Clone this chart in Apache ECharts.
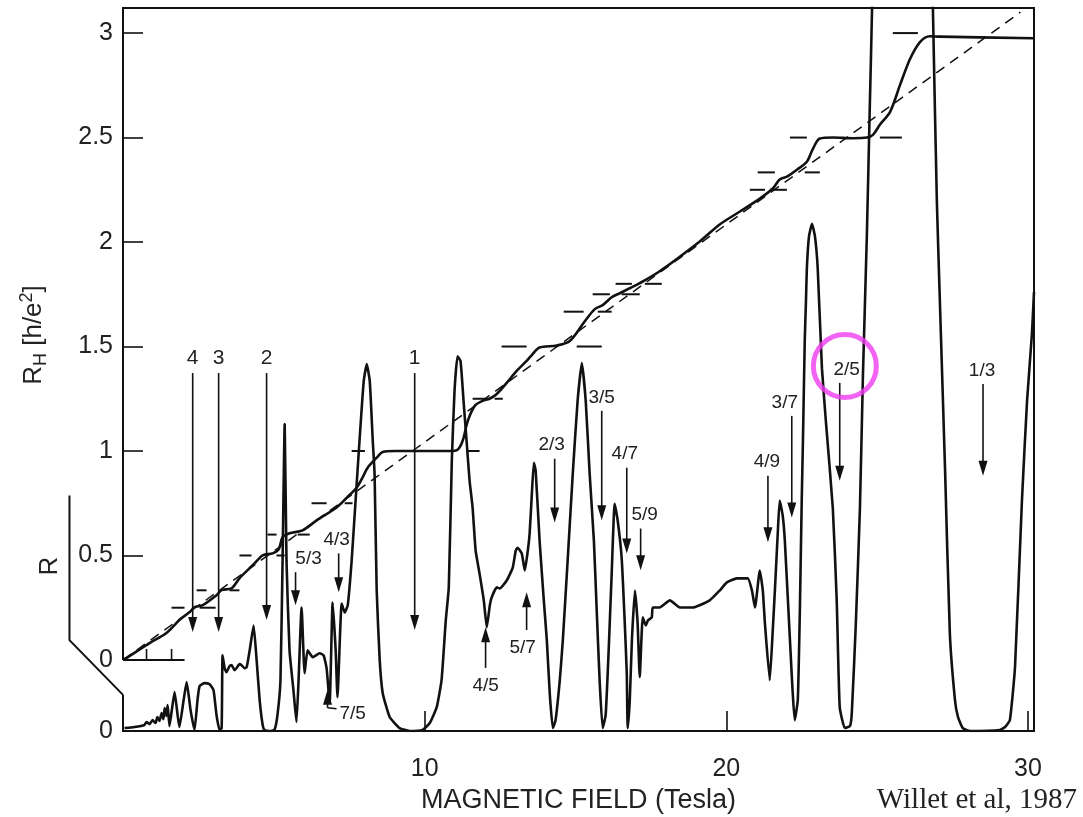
<!DOCTYPE html>
<html><head><meta charset="utf-8">
<script src="https://cdn.jsdelivr.net/npm/echarts@6/dist/echarts.min.js"></script>
<style>html,body{margin:0;padding:0;background:#fff}#c{width:1083px;height:817px}</style>
</head><body><div id="c"></div>
<script>
// ---------- DATA ----------
// Hall resistance R_H [h/e^2] vs magnetic field B [T]
const hallPoints = [
[0,0],[0.12,0.010],[0.88,0.081],[1.44,0.129],[1.87,0.191],[2.21,0.229],[2.37,0.253],[2.64,0.262],[3.10,0.310],[3.27,0.334],
[3.60,0.343],[3.86,0.391],[4.30,0.453],[4.63,0.501],[4.96,0.510],[5.16,0.529],[5.29,0.587],[5.52,0.606],[5.95,0.620],[6.42,0.668],
[7.08,0.730],[7.42,0.777],[7.75,0.825],[7.94,0.873],[8.11,0.920],[8.41,0.968],[8.61,0.995],[9.01,1.0],[10.83,1.0],[11.09,1.006],
[11.26,1.049],[11.43,1.144],[11.66,1.216],[11.92,1.240],[12.15,1.250],[12.39,1.273],[12.72,1.326],[13.05,1.383],[13.38,1.431],[13.58,1.464],
[13.81,1.495],[14.38,1.505],[14.81,1.526],[15.31,1.621],[15.64,1.679],[15.90,1.698],[16.20,1.736],[16.47,1.755],[16.80,1.779],[17.13,1.803],
[17.79,1.860],[19.12,2.003],[19.78,2.084],[20.45,2.146],[21.11,2.208],[21.54,2.256],[21.77,2.299],[22.01,2.313],[22.34,2.346],[22.67,2.384],
[22.87,2.446],[23.10,2.495],[23.53,2.5],[24.20,2.497],[24.66,2.5],[24.86,2.513],[25.09,2.561],[25.43,2.623],[25.76,2.752],[26.09,2.876],
[26.42,2.957],[26.75,2.985],[27.08,2.983],[30.17,2.975]
];
// Longitudinal resistance R (arbitrary units, zero on lower baseline) vs B [T]
const rxxPoints = [
[0.05,0.014],[0.38,0.019],[0.71,0.029],[0.78,0.043],[0.88,0.033],[0.98,0.052],[1.08,0.038],[1.14,0.067],[1.21,0.048],[1.28,0.086],
[1.34,0.057],[1.38,0.110],[1.44,0.072],[1.48,0.124],[1.54,0.024],[1.61,0.091],[1.71,0.186],[1.81,0.076],[1.87,0.019],[2.01,0.148],
[2.11,0.234],[2.24,0.100],[2.37,0.005],[2.47,0.148],[2.54,0.215],[2.70,0.229],[2.87,0.224],[3.00,0.196],[3.10,0.076],[3.20,0.005],
[3.27,0.014],[3.30,0.362],[3.37,0.300],[3.43,0.281],[3.53,0.310],[3.60,0.315],[3.70,0.291],[3.76,0.300],[3.86,0.320],[3.93,0.315],
[4.03,0.300],[4.10,0.305],[4.20,0.386],[4.33,0.505],[4.43,0.339],[4.53,0.148],[4.63,0.029],[4.69,0.005],[4.86,0],[5.02,0.005],
[5.12,0.076],[5.22,0.243],[5.29,0.815],[5.36,1.469],[5.42,0.815],[5.52,0.386],[5.65,0.196],[5.75,0.043],[5.82,0.243],[5.92,0.591],
[6.02,0.277],[6.12,0.386],[6.29,0.353],[6.52,0.372],[6.65,0.362],[6.75,0.300],[6.85,0.134],[6.95,0.615],[7.05,0.386],[7.11,0.162],
[7.25,0.610],[7.35,0.567],[7.45,0.601],[7.58,0.815],[7.71,1.102],[7.84,1.388],[7.98,1.674],[8.08,1.755],[8.18,1.674],[8.28,1.388],
[8.34,1.230],[8.41,0.672],[8.51,0.339],[8.61,0.181],[8.84,0.067],[9.17,0.014],[9.50,0],[9.93,0.005],[10.17,0.038],[10.40,0.114],
[10.56,0.243],[10.70,0.529],[10.80,0.687],[10.90,1.292],[10.99,1.626],[11.09,1.793],[11.19,1.769],[11.29,1.578],[11.39,1.388],[11.49,1.197],
[11.59,1.068],[11.69,0.863],[11.82,0.753],[11.96,0.625],[12.06,0.496],[12.16,0.601],[12.22,0.639],[12.39,0.687],[12.49,0.682],[12.72,0.720],
[12.92,0.782],[13.02,0.863],[13.08,0.877],[13.22,0.849],[13.32,0.768],[13.42,0.863],[13.48,0.944],[13.55,1.125],[13.62,1.283],[13.68,1.245],
[13.81,0.911],[13.95,0.625],[14.05,0.434],[14.15,0.172],[14.25,0.014],[14.34,0.052],[14.48,0.243],[14.58,0.434],[14.74,0.815],[14.91,1.230],
[15.07,1.578],[15.21,1.760],[15.34,1.578],[15.47,1.230],[15.61,0.911],[15.70,0.591],[15.80,0.243],[15.90,0.014],[16.00,0.076],[16.10,0.386],
[16.20,0.753],[16.30,1.087],[16.40,1.006],[16.53,0.830],[16.63,0.529],[16.70,0.277],[16.73,0.014],[16.80,0.148],[16.87,0.434],[16.97,0.672],
[17.06,0.515],[17.13,0.258],[17.23,0.544],[17.33,0.505],[17.40,0.529],[17.53,0.544],[17.56,0.591],[17.79,0.591],[18.13,0.625],[18.46,0.591],
[18.89,0.591],[19.45,0.625],[19.78,0.672],[20.02,0.711],[20.35,0.730],[20.71,0.730],[20.85,0.672],[20.95,0.591],[21.11,0.768],[21.21,0.672],
[21.28,0.515],[21.44,0.243],[21.54,0.482],[21.61,0.672],[21.71,0.959],[21.77,1.102],[21.87,1.030],[21.94,0.911],[22.11,0.434],[22.27,0.052],
[22.37,0.148],[22.44,0.591],[22.50,1.102],[22.54,1.388],[22.60,1.865],[22.64,2.055],[22.67,2.213],[22.74,2.365],[22.84,2.427],[22.94,2.365],
[23.03,2.213],[23.17,1.736],[23.30,1.483],[23.53,1.068],[23.66,0.625],[23.76,0.114],[23.93,0.014],[24.10,0.024],[24.16,0.086],[24.29,0.501],
[24.43,1.068],[24.53,1.707],[24.66,2.375],[24.76,3.009],[24.83,3.448],[24.89,4.2],[26.78,4.2],[26.85,3.448],[26.98,2.532],[27.08,2.055],
[27.25,1.259],[27.41,0.467],[27.58,0.148],[27.68,0.067],[27.84,0.014],[28.08,0],[29.07,0.005],[29.24,0.019],[29.40,0.052],[29.57,0.305],
[29.80,1.102],[29.97,1.579],[30.13,1.898],[30.20,2.10]
];
// classical Hall line
const classicalPoints = [[0,0],[29.75,3.10]];
// quantized Hall levels and the B-ranges of their short marker dashes
const plateauLevels = [0.25, 1/3, 0.5, 0.6, 0.75, 1, 1.25, 1.5, 5/3, 1.75, 1.8, 2.25, 7/3, 2.5, 3];
const plateauDashB = [
 [[1.61,2.04],[2.54,3.07]], [[2.44,2.77],[3.53,3.86]], [[3.86,4.26],[5.09,5.36]], [[4.79,5.09],[5.79,6.19]],
 [[6.25,6.75],[7.35,7.61]], [[7.58,8.02],[11.39,11.82]], [[11.59,12.15],[12.32,12.59]], [[12.55,13.38],[15.04,15.87]],
 [[14.61,15.27],[15.74,16.20]], [[15.57,16.14],[16.53,17.13]], [[16.33,16.87],[17.30,17.86]], [[20.78,21.28],[21.44,22.01]],
 [[21.04,21.61],[22.60,23.10]], [[22.11,22.67],[25.09,25.82]], [[25.52,26.35]]
];
// filling-factor arrows (B, from, to in R_H units)
const arrowLabels = ['4','3','2','1','5/3','4/3','7/5','4/5','5/7','2/3','3/5','4/7','5/9','4/9','3/7','2/5','1/3'];
const arrowB    = [2.31,3.17,4.76,9.67,5.72,7.15,6.78,12.02,13.38,14.31,15.87,16.70,17.16,21.38,22.17,23.76,28.51];
const arrowFrom = [1.373,1.373,1.373,1.373,0.42,0.51,-0.229,-0.038,0.143,0.963,1.192,0.920,0.629,0.882,1.168,1.326,1.321];
const arrowTo   = [0.134,0.134,0.191,0.143,0.262,0.324,-0.143,0.157,0.324,0.658,0.668,0.510,0.429,0.563,0.682,0.858,0.882];
const highlightPoint = [23.93, 1.407]; // circled "2/5"
const xTicks = [10,20,30];
const yTicks = [0,0.5,1,1.5,2,2.5,3];
const rTicks = [0];

// ---------- LAYOUT / STYLE ----------
const X_MAX = 30.2, Y_MIN = -0.340, Y_MAX = 3.120, R_MAX = 3.459;
const INK = '#111';
const SANS = '"Liberation Sans", Arial, sans-serif';
const arrowLabelDx = [0,0,0,0,13,-2,0,0,-4,-3,0,-2,4,-1,-7,7,-1];
const rhBaselineEnd = 2.04, rhBaselineTicks = [0.78, 1.61];
const bracketPath = [[-1.774, 0.787], [-1.774, 0.095], [0, -0.167]];
const framePath = [[0, 0], [0, Y_MAX], [X_MAX, Y_MAX], [X_MAX, Y_MIN], [0, Y_MIN], [0, -0.167]];

const chart = echarts.init(document.getElementById('c'), null, {renderer:'canvas'});

const dashData = [];
plateauLevels.forEach((lv, i) => plateauDashB[i].forEach(r => dashData.push([r[0], r[1], lv])));
const arrowData = arrowB.map((b, i) => [b, arrowFrom[i], arrowTo[i], i]);

const option = {
  animation: false,
  backgroundColor: '#ffffff',
  grid: {left: 123, right: 49, top: 8, bottom: 86, containLabel: false, outerBoundsMode: 'none'},
  xAxis: {
    type: 'value', min: 0, max: X_MAX,
    axisLine: {show: false, onZero: false},
    splitLine: {show: false},
    axisTick: {show: true, inside: true, length: 20, customValues: xTicks, lineStyle: {color: INK, width: 1.6}},
    axisLabel: {customValues: xTicks, fontSize: 25, fontFamily: SANS, color: '#222', margin: 26},
    name: 'MAGNETIC FIELD (Tesla)', nameLocation: 'middle', nameGap: 55,
    nameTextStyle: {fontSize: 27, fontFamily: SANS, color: '#222'}
  },
  yAxis: [
    {type: 'value', min: Y_MIN, max: Y_MAX, position: 'left',
     axisLine: {show: false, onZero: false}, splitLine: {show: false},
     axisTick: {show: true, inside: true, length: 20, customValues: yTicks, lineStyle: {color: INK, width: 1.6}},
     axisLabel: {customValues: yTicks, fontSize: 25, fontFamily: SANS, color: '#222', margin: 10,
                 formatter: v => String(v)}},
    {type: 'value', min: 0, max: R_MAX, position: 'left',
     axisLine: {show: false, onZero: false}, splitLine: {show: false}, axisTick: {show: false},
     axisLabel: {customValues: rTicks, fontSize: 25, fontFamily: SANS, color: '#222', margin: 10}}
  ],
  graphic: [
    {type: 'text', x: 34, y: 335, rotation: Math.PI / 2,
     style: {text: '{m|R}{s|H}{m| [h/e}{p|2}{m|]}', align: 'center', verticalAlign: 'middle',
             textAlign: 'center', textVerticalAlign: 'middle', fill: '#222',
             rich: {m: {fontSize: 26, fontFamily: SANS, lineHeight: 32, verticalAlign: 'middle', fill: '#222'},
                    s: {fontSize: 18, fontFamily: SANS, verticalAlign: 'bottom', fill: '#222'},
                    p: {fontSize: 18, fontFamily: SANS, verticalAlign: 'top', fill: '#222'}}}},
    {type: 'text', x: 50, y: 566, rotation: Math.PI / 2,
     style: {text: 'R', fontSize: 26, fontFamily: SANS, fill: '#222', align: 'center', verticalAlign: 'middle',
             textAlign: 'center', textVerticalAlign: 'middle'}},
    {type: 'text', x: 1077, y: 800,
     style: {text: 'Willet et al, 1987', fontSize: 29, fontFamily: '"Liberation Serif", "DejaVu Serif", serif',
             fill: '#222', align: 'right', verticalAlign: 'middle', textAlign: 'right', textVerticalAlign: 'middle'}}
  ],
  series: [
    {type: 'line', name: 'R', yAxisIndex: 1, data: rxxPoints, showSymbol: false, smooth: 0.15,
     clip: true, lineStyle: {color: INK, width: 2.6}, z: 2},
    {type: 'line', name: 'RH', yAxisIndex: 0, data: hallPoints, showSymbol: false, smooth: 0.3,
     clip: true, lineStyle: {color: INK, width: 2.6}, z: 3},
    {type: 'line', name: 'classical', yAxisIndex: 0, data: classicalPoints, showSymbol: false,
     lineStyle: {color: INK, width: 1.5, type: [10, 7]}, z: 3},
    {type: 'custom', name: 'dashes', yAxisIndex: 0, data: dashData, clip: false, z: 4,
     renderItem: (params, api) => {
       const a = api.coord([api.value(0), api.value(2)]);
       const b = api.coord([api.value(1), api.value(2)]);
       return {type: 'line', shape: {x1: a[0], y1: a[1], x2: b[0], y2: b[1]}, style: {stroke: INK, lineWidth: 2}};
     }},
    {type: 'custom', name: 'frame', yAxisIndex: 0, data: [[0, 0]], clip: false, z: 6,
     renderItem: (params, api) => {
       const ch = [];
       const o = api.coord([0, 0]), e = api.coord([rhBaselineEnd, 0]);
       ch.push({type: 'line', shape: {x1: o[0], y1: o[1], x2: e[0], y2: e[1]}, style: {stroke: INK, lineWidth: 2}});
       rhBaselineTicks.forEach(t => {
         const p = api.coord([t, 0]);
         ch.push({type: 'line', shape: {x1: p[0], y1: p[1], x2: p[0], y2: p[1] - 11}, style: {stroke: INK, lineWidth: 1.6}});
       });
       ch.push({type: 'polyline', shape: {points: framePath.map(p => api.coord(p))},
                style: {stroke: INK, lineWidth: 2, fill: null}});
       ch.push({type: 'polyline', shape: {points: bracketPath.map(p => api.coord(p))},
                style: {stroke: INK, lineWidth: 2, fill: null}});
       return {type: 'group', children: ch};
     }},
    {type: 'custom', name: 'arrows', yAxisIndex: 0, data: arrowData, clip: false, z: 5,
     renderItem: (params, api) => {
       const i = api.value(3);
       const p1 = api.coord([api.value(0), api.value(1)]);
       const p2 = api.coord([api.value(0), api.value(2)]);
       const dir = p2[1] > p1[1] ? 1 : -1;
       const hl = 15, hw = 4.5;
       const lab = arrowLabels[i];
       const big = lab.length === 1;
       const ch = [
         {type: 'line', shape: {x1: p1[0], y1: p1[1], x2: p2[0], y2: p2[1] - dir * (hl - 2)}, style: {stroke: INK, lineWidth: 1.6}},
         {type: 'polygon', shape: {points: [[p2[0] - hw, p2[1] - dir * hl], [p2[0] + hw, p2[1] - dir * hl], [p2[0], p2[1]]]}, style: {fill: INK}}
       ];
       const fs = big ? 21 : 19;
       if (lab === '7/5') {
         ch.push({type: 'line', shape: {x1: p1[0], y1: p1[1], x2: p1[0] + 9, y2: p1[1] + 1}, style: {stroke: INK, lineWidth: 1.6}});
         ch.push({type: 'text', x: p1[0] + 12, y: p1[1] + 6,
           style: {text: lab, fontSize: fs, fontFamily: SANS, fill: '#222', align: 'left', verticalAlign: 'middle',
                   textAlign: 'left', textVerticalAlign: 'middle'}});
       } else {
         const ty = dir > 0 ? p1[1] - 4 : p1[1] + 8;
         ch.push({type: 'text', x: p1[0] + arrowLabelDx[i], y: ty,
           style: {text: lab, fontSize: fs, fontFamily: SANS, fill: '#222', align: 'center',
                   verticalAlign: dir > 0 ? 'bottom' : 'top', textAlign: 'center',
                   textVerticalAlign: dir > 0 ? 'bottom' : 'top'}});
       }
       return {type: 'group', children: ch};
     }},
    {type: 'scatter', name: 'highlight', yAxisIndex: 0, data: [highlightPoint], symbol: 'circle', symbolSize: 63,
     itemStyle: {color: 'rgba(0,0,0,0)', borderColor: '#f03cf0', borderWidth: 5}, z: 6, silent: true}
  ]
};
chart.setOption(option);
</script>
</body></html>
